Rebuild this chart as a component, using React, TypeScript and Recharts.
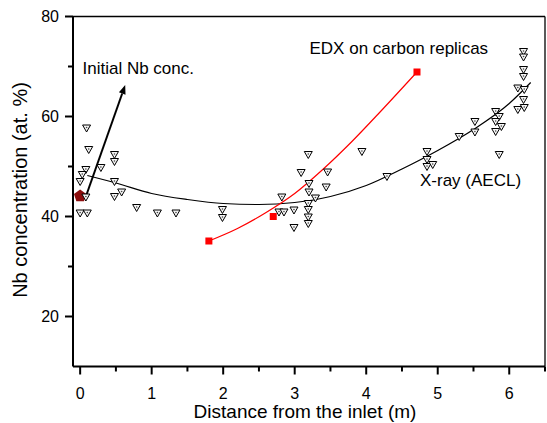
import React from 'react';
import { ComposedChart, XAxis, YAxis, Scatter, Line, ReferenceLine } from 'recharts';

// X-ray (AECL) measurements
const xrayDist = [
  0.09, 0.12, 0.48, 0.48, 0.29, 0.08, 0.03, 0.0, 0.48, 0.58, 0.48, 0.08, 0.0, 0.1, 0.79, 1.08, 1.34, 1.99, 1.99,
  2.82, 2.78, 2.85, 2.99, 2.99, 3.09, 3.19, 3.94, 3.46, 3.2, 3.2, 3.44, 3.29, 3.19, 3.19, 3.19, 3.19, 4.29,
  4.85, 4.85, 4.85, 4.93, 5.3, 5.52, 5.52, 5.81, 5.86, 5.81, 5.89, 5.81, 5.86, 6.12, 6.21, 6.2, 6.12, 6.21, 6.2, 6.2, 6.2, 6.2,
];
const xrayNb = [
  57.6, 53.3, 52.3, 50.9, 49.7, 49.3, 48.3, 46.9, 46.9, 44.8, 43.9, 43.8, 40.6, 40.6, 41.7, 40.6, 40.6, 41.3, 39.7,
  43.8, 40.8, 40.8, 41.2, 37.7, 48.7, 52.3, 52.9, 48.8, 46.5, 44.8, 45.8, 43.6, 42.5, 41.3, 39.8, 38.5, 47.9,
  52.9, 51.3, 49.9, 50.3, 55.9, 58.9, 56.8, 60.9, 59.9, 58.9, 57.9, 56.9, 52.3, 65.6, 65.3, 63.3, 61.3, 61.7, 72.9, 71.8, 69.3, 67.9,
];

// fitted trend through the X-ray data
const xrayFitDist = [0.1, 0.5, 1.0, 1.5, 2.0, 2.5, 3.0, 3.5, 4.0, 4.5, 5.0, 5.5, 6.0, 6.3];
const xrayFitNb = [48.2, 46.7, 44.6, 43.4, 42.6, 42.4, 42.8, 44.0, 46.2, 49.5, 53.2, 57.4, 62.6, 66.8];

// EDX on carbon replicas
const edxDist = [1.8, 2.7, 4.71];
const edxNb = [35.1, 40.0, 68.9];
const edxFitDist = [1.8, 2.2, 2.6, 3.0, 3.4, 3.8, 4.2, 4.71];
const edxFitNb = [35.1, 37.6, 40.8, 44.6, 49.5, 55.0, 61.0, 68.9];

// initial Nb concentration
const initDist = [0];
const initNb = [44.1];
const arrowFrom = { x: 0.07, y: 43.6 };
const arrowTo = { x: 0.63, y: 66.3 };

const xTicks = [0, 0.5, 1, 1.5, 2, 2.5, 3, 3.5, 4, 4.5, 5, 5.5, 6, 6.5];
const yTicks = [20, 30, 40, 50, 60, 70, 80];

const toPoints = (xs: number[], ys: number[]) => xs.map((x, i) => ({ x, y: ys[i] }));

const FONT = '"Liberation Sans", Arial, Helvetica, sans-serif';

const XTick = (props: any) => {
  const { x, y, payload } = props;
  const v = payload.value;
  const major = Number.isInteger(v);
  return (
    <g>
      <line x1={x} x2={x} y1={y} y2={y + (major ? 8 : 5)} stroke="#000" strokeWidth={2} />
      {major && (
        <text x={x} y={y + 27} dy="0.35em" textAnchor="middle" fontSize={16} fontFamily={FONT} fill="#000">
          {v}
        </text>
      )}
    </g>
  );
};

const YTick = (props: any) => {
  const { x, y, payload } = props;
  const v = payload.value;
  const major = v % 20 === 0;
  return (
    <g>
      <line x1={x - (major ? 8 : 5)} x2={x} y1={y} y2={y} stroke="#000" strokeWidth={2} />
      {major && (
        <text x={x - 14} y={y} dy="0.35em" textAnchor="end" fontSize={16} fontFamily={FONT} fill="#000">
          {v}
        </text>
      )}
    </g>
  );
};

const Triangle = (props: any) => {
  const { cx, cy } = props;
  if (cx == null || cy == null) return null;
  return (
    <g>
      <polygon
        points={`${cx - 4},${cy - 3.5} ${cx + 4},${cy - 3.5} ${cx},${cy + 3.5}`}
        fill="#f4f4f4"
        stroke="#000"
        strokeWidth={1}
      />
      <circle cx={cx} cy={cy - 1} r={0.8} fill="#444" />
    </g>
  );
};

const RedSquare = (props: any) => {
  const { cx, cy } = props;
  return <rect x={cx - 3.5} y={cy - 3.5} width={7} height={7} fill="#ff0000" />;
};

const InitMark = (props: any) => {
  const { cx, cy } = props;
  const r = 6.5;
  const pts = [0, 1, 2, 3, 4]
    .map((i) => {
      const a = -Math.PI / 2 + (i * 2 * Math.PI) / 5;
      return `${cx + r * Math.cos(a)},${cy + r * Math.sin(a)}`;
    })
    .join(' ');
  return <polygon points={pts} fill="#8b0d0d" />;
};

const Arrow = (props: any) => {
  const { x1, y1, x2, y2 } = props;
  const a = Math.atan2(y2 - y1, x2 - x1);
  const len = 9;
  const w = 3.5;
  const bx = x2 - len * Math.cos(a);
  const by = y2 - len * Math.sin(a);
  const px = -Math.sin(a) * w;
  const py = Math.cos(a) * w;
  return (
    <g>
      <line x1={x1} y1={y1} x2={bx} y2={by} stroke="#000" strokeWidth={2} />
      <polygon points={`${x2},${y2} ${bx + px},${by + py} ${bx - px},${by - py}`} fill="#000" />
    </g>
  );
};

export default function App() {
  return (
    <div style={{ position: 'absolute', left: 0, top: 0, width: 547, height: 423, background: '#fff' }}>
      <ComposedChart width={547} height={423} margin={{ top: 16.5, right: 2, bottom: 0, left: 0 }}>
        <XAxis
          type="number"
          dataKey="x"
          domain={[-0.1, 6.5]}
          ticks={xTicks}
          interval={0}
          allowDataOverflow
          tick={<XTick />}
          tickLine={false}
          tickSize={0}
          tickMargin={0}
          height={56.5}
          axisLine={{ stroke: '#000', strokeWidth: 2 }}
        />
        <YAxis
          type="number"
          dataKey="y"
          domain={[10, 80]}
          ticks={yTicks}
          interval={0}
          allowDataOverflow
          tick={<YTick />}
          tickLine={false}
          tickSize={0}
          tickMargin={0}
          width={73}
          axisLine={{ stroke: '#000', strokeWidth: 2 }}
        />
        <ReferenceLine y={80} stroke="#000" strokeWidth={1.3} />
        <ReferenceLine x={6.5} stroke="#000" strokeWidth={1.3} />
        <Line
          data={toPoints(xrayFitDist, xrayFitNb)}
          dataKey="y"
          type="monotone"
          stroke="#000"
          strokeWidth={1.2}
          dot={false}
          isAnimationActive={false}
        />
        <Line
          data={toPoints(edxFitDist, edxFitNb)}
          dataKey="y"
          type="monotone"
          stroke="#ff0000"
          strokeWidth={1.2}
          dot={false}
          isAnimationActive={false}
        />
        <Scatter data={toPoints(initDist, initNb)} shape={<InitMark />} isAnimationActive={false} />
        <Scatter data={toPoints(xrayDist, xrayNb)} shape={<Triangle />} isAnimationActive={false} />
        <Scatter data={toPoints(edxDist, edxNb)} shape={<RedSquare />} isAnimationActive={false} />
        <ReferenceLine segment={[arrowFrom, arrowTo]} shape={<Arrow />} />
        <text x={82.5} y={68} dy="0.35em" fontSize={17} fontFamily={FONT} fill="#000">
          Initial Nb conc.
        </text>
        <text x={309.5} y={48} dy="0.35em" fontSize={17} fontFamily={FONT} fill="#000">
          EDX on carbon replicas
        </text>
        <text x={420} y={180} dy="0.35em" fontSize={17} fontFamily={FONT} fill="#000">
          X-ray (AECL)
        </text>
        <text x={305} y={418} textAnchor="middle" fontSize={19} fontFamily={FONT} fill="#000">
          Distance from the inlet (m)
        </text>
        <text
          transform="rotate(-90)"
          x={-190}
          y={20}
          dy="0.35em"
          textAnchor="middle"
          fontSize={20}
          fontFamily={FONT}
          fill="#000"
        >
          Nb concentration (at. %)
        </text>
      </ComposedChart>
    </div>
  );
}
